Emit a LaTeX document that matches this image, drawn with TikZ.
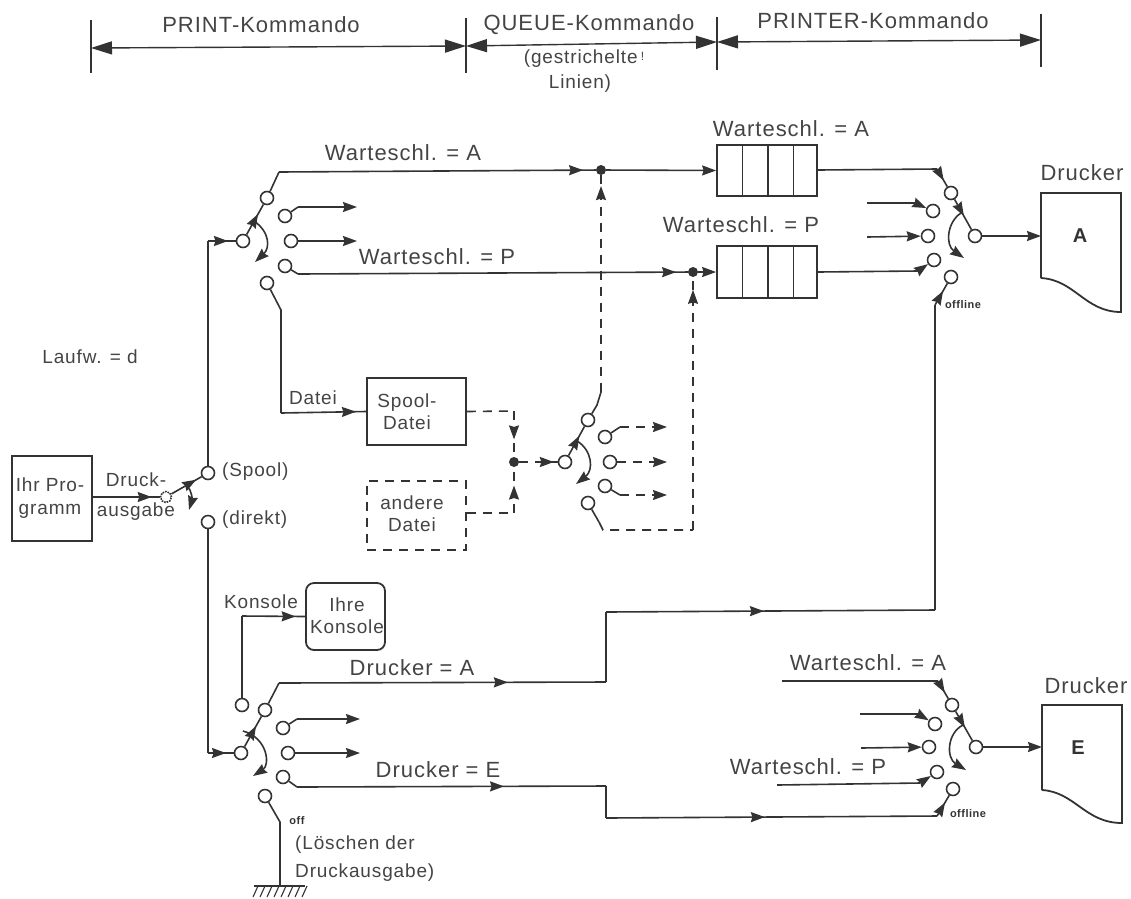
\documentclass[tikz,border=0pt]{standalone}
\usepackage{fontspec}
\setmainfont{Liberation Sans}[LetterSpace=4.5]
\usetikzlibrary{arrows.meta,calc,decorations.markings}
\definecolor{ink}{HTML}{333333}
\definecolor{txt}{HTML}{444444}
\tikzset{
 x=1pt,y=-1pt,
 wire/.style={draw=ink,line width=1.6pt},
 dashwire/.style={wire,dash pattern=on 9pt off 7pt},
 tip/.style={-{Stealth[length=14pt,width=10pt,inset=1.5pt]}},
 arrowat/.style={postaction={decorate},decoration={markings,mark=at position #1 with {\arrow[solid,ink]{Stealth[length=14pt,width=10pt,inset=1.5pt]}}}},
 contact/.style={circle,draw=ink,fill=white,line width=1.6pt,minimum size=13pt,inner sep=0pt},
 jdot/.style={circle,fill=ink,minimum size=10pt,inner sep=0pt},
 boxn/.style={draw=ink,line width=1.8pt,inner sep=0pt},
 label/.style={text=txt,font=\fontsize{22}{24}\selectfont,inner sep=0pt,align=center},
 smalllabel/.style={text=txt,font=\fontsize{19}{21}\selectfont,inner sep=0pt,align=center},
 tiny/.style={text=ink,font=\bfseries\fontsize{11}{12}\selectfont,inner sep=0pt},
 bold/.style={text=ink,font=\bfseries\fontsize{20}{22}\selectfont,inner sep=0pt},
 dimline/.style={draw=ink,line width=1.4pt,{Stealth[length=21pt,width=13pt,inset=0pt]}-{Stealth[length=21pt,width=13pt,inset=0pt]}},
}
\begin{document}
\begin{tikzpicture}
\useasboundingbox (0,0) rectangle (1131,898);
% header
\coordinate (t1a) at (91,20); \coordinate (t1b) at (91,73);
\coordinate (t2a) at (466,18); \coordinate (t2b) at (466,73);
\coordinate (t3a) at (717,17); \coordinate (t3b) at (717,70);
\coordinate (t4a) at (1041,14); \coordinate (t4b) at (1041,67);
\foreach \k in {1,2,3,4}{\draw[ink,line width=1.3pt] (t\k a) -- (t\k b);}
\coordinate (d1) at (91,48); \coordinate (d2) at (466,46); \coordinate (d3) at (717,42); \coordinate (d4) at (1041,40);
\draw[dimline] (d1) -- (d2); \draw[dimline] (d2) -- (d3); \draw[dimline] (d3) -- (d4);
\node[label] (lprint) at (261,25) {PRINT-Kommando};
\node[label] (lqueue) at (589,25) {QUEUE-Kommando};
\node[smalllabel] (lgest) at (584,59) {(gestrichelte\,\raisebox{3pt}{\fontsize{12}{12}\selectfont !}};
\node[smalllabel] (llin) at (580,84) {Linien)};
\node[label] (lprinter) at (873,21) {PRINTER-Kommando};

% program
\node[boxn,minimum width=80pt,minimum height=85pt] (prog) at (52,498.5) {};
\node[smalllabel] (progt) at (50,498) {Ihr Pro-\\[2pt]gramm};
\node[contact,minimum size=11pt,densely dotted] (p0) at (166,497) {};
\node[contact] (spool) at (208,473) {};
\node[contact] (direkt) at (208,522) {};
\draw[wire,arrowat=0.88] (prog.east|-p0) -- (p0);
\draw[wire,arrowat=0.82] (p0) -- (spool);
\coordinate (a0a) at (187,486); \coordinate (a0b) at (189,510);
\draw[wire,tip] (a0a) .. controls (192,490) and (192,500) .. (a0b);
\node[smalllabel] (ldruck) at (136,480) {Druck-};
\node[smalllabel] (lausg) at (136,512) {ausgabe};
\node[smalllabel,anchor=west] (lspool) at (222,472) {(Spool)};
\node[smalllabel,anchor=west] (ldirekt) at (222,520) {(direkt)};
\node[smalllabel] (llauf) at (90,357) {Laufw. = d};

% switch 1
\node[contact] (s1p) at (243,241) {};
\node[contact] (s1a) at (267,198) {};
\node[contact] (s1b) at (285,216) {};
\node[contact] (s1c) at (291,241) {};
\node[contact] (s1d) at (285,266) {};
\node[contact] (s1e) at (267,283) {};
\coordinate (v1) at (208,241);
\draw[wire] (spool) -- (v1);
\draw[wire,arrowat=0.72] (v1) -- (s1p);
\draw[wire,arrowat=0.68] (s1p) -- (s1a);
\coordinate (s1k1) at (254,221); \coordinate (s1k2) at (255,262);
\draw[wire,tip] (s1k1) .. controls (270,232) and (270,248) .. (s1k2);
\coordinate (s1a1) at (279,172); \coordinate (s1b1) at (298,207); \coordinate (s1b2) at (357,207);
\coordinate (s1c2) at (357,241); \coordinate (s1d1) at (298,274); \coordinate (s1e1) at (281,310); \coordinate (s1e2) at (281,413);
\node[jdot] (ja) at (601,170) {};
\node[jdot] (jp) at (693,272) {};
\draw[wire] (s1a) -- (s1a1);
\draw[wire,arrowat=0.96] (s1a1) -- (ja);
\draw[wire] (s1b) -- (s1b1); \draw[wire,tip] (s1b1) -- (s1b2);
\draw[wire,tip] (s1c) -- (s1c2);
\draw[wire] (s1d) -- (s1d1); \draw[wire,arrowat=0.97] (s1d1) -- (jp);
\draw[wire] (s1e) -- (s1e1) -- (s1e2);

% queues
\node[boxn,minimum width=100pt,minimum height=51pt] (qa) at (767,170.5) {};
\node[boxn,minimum width=100pt,minimum height=52pt] (qp) at (767,272) {};
\foreach \q in {qa,qp}{\foreach \f in {0.26,0.51,0.76}{
 \draw[ink,line width=1.6pt] ($(\q.north west)!\f!(\q.north east)$) -- ($(\q.south west)!\f!(\q.south east)$);}}
\draw[wire,tip] (ja) -- (qa.west);
\draw[wire,tip] (jp) -- (qp.west);
\node[label] (lwa) at (791,129) {Warteschl. = A};
\node[label] (lwp) at (741,225) {Warteschl. = P};
\node[label] (lwa2) at (403,153) {Warteschl. = A};
\node[label] (lwp2) at (437,257) {Warteschl. = P};

% spool files
\node[boxn,minimum width=99pt,minimum height=67pt] (spf) at (416.5,411.5) {};
\node[smalllabel] (spft) at (407,412) {Spool-\\[1pt]Datei};
\node[boxn,dashwire,minimum width=99pt,minimum height=69pt] (anf) at (416.5,515.5) {};
\node[smalllabel] (anft) at (412,514) {andere\\[1pt]Datei};
\draw[wire,arrowat=0.88] (s1e2) -- (spf.west);
\node[smalllabel] (ldatei) at (313,398) {Datei};
\node[jdot] (jf) at (514,462) {};
\coordinate (f1) at (514,411); \coordinate (f2) at (514,513);
\draw[dashwire] (spf.east) -- (f1);
\draw[dashwire,arrowat=0.62] (f1) -- (jf);
\draw[dashwire] (anf.east|-f2) -- (f2);
\draw[dashwire,arrowat=0.6] (f2) -- (jf);

% switch 2
\node[contact] (s2p) at (565,462) {};
\node[contact] (s2a) at (588,420) {};
\node[contact] (s2b) at (605,437) {};
\node[contact] (s2c) at (610,462) {};
\node[contact] (s2d) at (605,486) {};
\node[contact] (s2e) at (588,503) {};
\draw[dashwire,arrowat=0.9] (jf) -- (s2p);
\draw[wire,arrowat=0.68] (s2p) -- (s2a);
\coordinate (s2k1) at (577,441); \coordinate (s2k2) at (576,484);
\draw[wire,tip] (s2k1) .. controls (592,450) and (594,470) .. (s2k2);
\coordinate (s2a1) at (601,392); \coordinate (s2a0) at (597,405); \coordinate (s2b1) at (620,427); \coordinate (s2b2) at (667,427);
\coordinate (s2c2) at (667,462); \coordinate (s2d1) at (620,495); \coordinate (s2d2) at (667,495);
\coordinate (s2e1) at (599,522); \coordinate (s2e2) at (603,530); \coordinate (s2e3) at (693,530);
\draw[wire] (s2a) -- (s2a0) -- (s2a1);
\draw[dashwire,arrowat=0.95] (s2a1) -- (ja);
\draw[wire] (s2b) -- (s2b1); \draw[dashwire,tip] (s2b1) -- (s2b2);
\draw[dashwire,tip] (s2c) -- (s2c2);
\draw[wire] (s2d) -- (s2d1); \draw[dashwire,tip] (s2d1) -- (s2d2);
\draw[wire] (s2e) -- (s2e1);
\draw[dashwire] (s2e1) -- (s2e2) -- (s2e3);
\draw[dashwire,arrowat=0.95] (s2e3) -- (jp);

% printer A switch
\node[contact] (rap) at (975,236) {};
\node[contact] (raa) at (951,193) {};
\node[contact] (rab) at (933,211) {};
\node[contact] (rac) at (928,236) {};
\node[contact] (rad) at (934,260) {};
\node[contact] (rae) at (951,277) {};
\coordinate (ra1) at (937,169); \coordinate (rb0) at (867,203); \coordinate (rb1) at (915,203);
\coordinate (rc0) at (867,237); \coordinate (rd1) at (918,271); \coordinate (re1) at (935,305);
\draw[wire] (qa.east|-ja) -- (ra1);
\draw[wire,arrowat=0.65] (ra1) -- (raa);
\draw[wire,arrowat=0.55] (raa) -- (rap);
\draw[wire] (rb0) -- (rb1); \draw[wire,tip] (rb1) -- (rab);
\draw[wire,tip] (rc0) -- (rac);
\draw[wire] (qp.east|-jp) -- (rd1); \draw[wire,tip] (rd1) -- (rad);
\draw[wire,arrowat=0.65] (re1) -- (rae);
\coordinate (rk1) at (961,213); \coordinate (rk2) at (964,258);
\draw[wire,tip] (rk1) .. controls (947,222) and (945,245) .. (rk2);
% printer A
\draw[boxn] (1041,278) -- (1041,193) -- (1121,193) -- (1121,312)
  .. controls (1085,312) and (1075,280) .. (1041,278);
\coordinate (paw) at (1041,236);
\draw[wire,tip] (rap) -- (paw);
\node[bold] (pal) at (1080,236) {A};
\node[label] (ldra) at (1082,173) {Drucker};
\node[tiny] (loffa) at (963,305) {offline};

% switch 3
\node[contact] (s3p) at (241,753) {};
\node[contact] (s3a) at (265,710) {};
\node[contact] (s3k) at (242,705) {};
\node[contact] (s3b) at (283,728) {};
\node[contact] (s3c) at (288,753) {};
\node[contact] (s3d) at (283,777) {};
\node[contact] (s3e) at (265,796) {};
\coordinate (v3) at (208,753);
\draw[wire] (direkt) -- (v3);
\draw[wire,arrowat=0.7] (v3) -- (s3p);
\draw[wire,arrowat=0.68] (s3p) -- (s3a);
\coordinate (s3k1) at (243,731); \coordinate (s3k2) at (253,776);
\draw[wire,tip] (s3k1) .. controls (268,738) and (270,765) .. (s3k2);
\coordinate (s3a1) at (279,683); \coordinate (s3a2) at (606,682); \coordinate (s3a3) at (606,612); \coordinate (s3a4) at (935,610);
\coordinate (s3b1) at (297,719); \coordinate (s3b2) at (360,719); \coordinate (s3c2) at (360,753);
\coordinate (s3d1) at (297,787); \coordinate (s3d2) at (606,786); \coordinate (s3d3) at (606,818); \coordinate (s3d4) at (937,816);
\coordinate (s3e1) at (280,822); \coordinate (gnd) at (280,885);
\draw[wire] (s3a) -- (s3a1);
\draw[wire,arrowat=0.7] (s3a1) -- (s3a2);
\draw[wire] (s3a2) -- (s3a3);
\draw[wire,arrowat=0.48] (s3a3) -- (s3a4);
\draw[wire] (s3a4) -- (re1);
\draw[wire] (s3b) -- (s3b1); \draw[wire,tip] (s3b1) -- (s3b2);
\draw[wire,tip] (s3c) -- (s3c2);
\draw[wire] (s3d) -- (s3d1);
\draw[wire,arrowat=0.67] (s3d1) -- (s3d2);
\draw[wire] (s3d2) -- (s3d3);
\draw[wire,arrowat=0.48] (s3d3) -- (s3d4);
\draw[wire] (s3e) -- (s3e1) -- (gnd);
\draw[ink,line width=1.6pt] (254,886) -- (305,886);
\foreach \hx in {258,265,...,307}{\draw[ink,line width=1.1pt] (\hx,886) -- (\hx-5,897);}
\node[tiny] (loff) at (297,821) {off};
\node[smalllabel,anchor=west] (lloe) at (295,845) {(Löschen der};
\node[smalllabel,anchor=west] (llo2) at (295,873) {Druckausgabe)};
\node[label] (ldrA) at (412,668) {Drucker = A};
\node[label] (ldrE) at (438,770) {Drucker = E};

% console
\node[boxn,rounded corners=8pt,minimum width=79pt,minimum height=67pt] (kon) at (345.5,616.5) {};
\node[smalllabel] (kont) at (347,616) {Ihre\\[1pt]Konsole};
\coordinate (k1) at (242,616);
\draw[wire] (s3k) -- (k1);
\draw[wire,arrowat=0.85] (k1) -- (kon.west);
\node[smalllabel] (lkon) at (261,602) {Konsole};

% switch E
\node[contact] (rep) at (976,747) {};
\node[contact] (rea) at (952,705) {};
\node[contact] (reb) at (935,724) {};
\node[contact] (rec) at (929,747) {};
\node[contact] (red) at (937,772) {};
\node[contact] (ree) at (953,789) {};
\coordinate (qa0) at (782,681); \coordinate (qa1) at (938,681);
\coordinate (qb0) at (860,714); \coordinate (qb1) at (918,714);
\coordinate (qc0) at (861,748);
\coordinate (qd0) at (777,785); \coordinate (qd1) at (920,783);
\draw[wire] (qa0) -- (qa1);
\draw[wire,arrowat=0.65] (qa1) -- (rea);
\draw[wire,arrowat=0.55] (rea) -- (rep);
\draw[wire] (qb0) -- (qb1); \draw[wire,tip] (qb1) -- (reb);
\draw[wire,tip] (qc0) -- (rec);
\draw[wire] (qd0) -- (qd1); \draw[wire,tip] (qd1) -- (red);
\draw[wire,arrowat=0.65] (s3d4) -- (ree);
\coordinate (rek1) at (963,725); \coordinate (rek2) at (966,770);
\draw[wire,tip] (rek1) .. controls (947,733) and (946,758) .. (rek2);
\draw[boxn] (1042,790) -- (1042,705) -- (1122,705) -- (1122,823)
  .. controls (1085,823) and (1075,792) .. (1042,790);
\coordinate (pew) at (1042,747);
\draw[wire,tip] (rep) -- (pew);
\node[bold] (pel) at (1078,748) {E};
\node[label] (ldre) at (1086,686) {Drucker};
\node[tiny] (loffe) at (968,814) {offline};
\node[label] (lqa) at (868,663) {Warteschl. = A};
\node[label] (lqp) at (808,767) {Warteschl. = P};
\end{tikzpicture}
\end{document}
